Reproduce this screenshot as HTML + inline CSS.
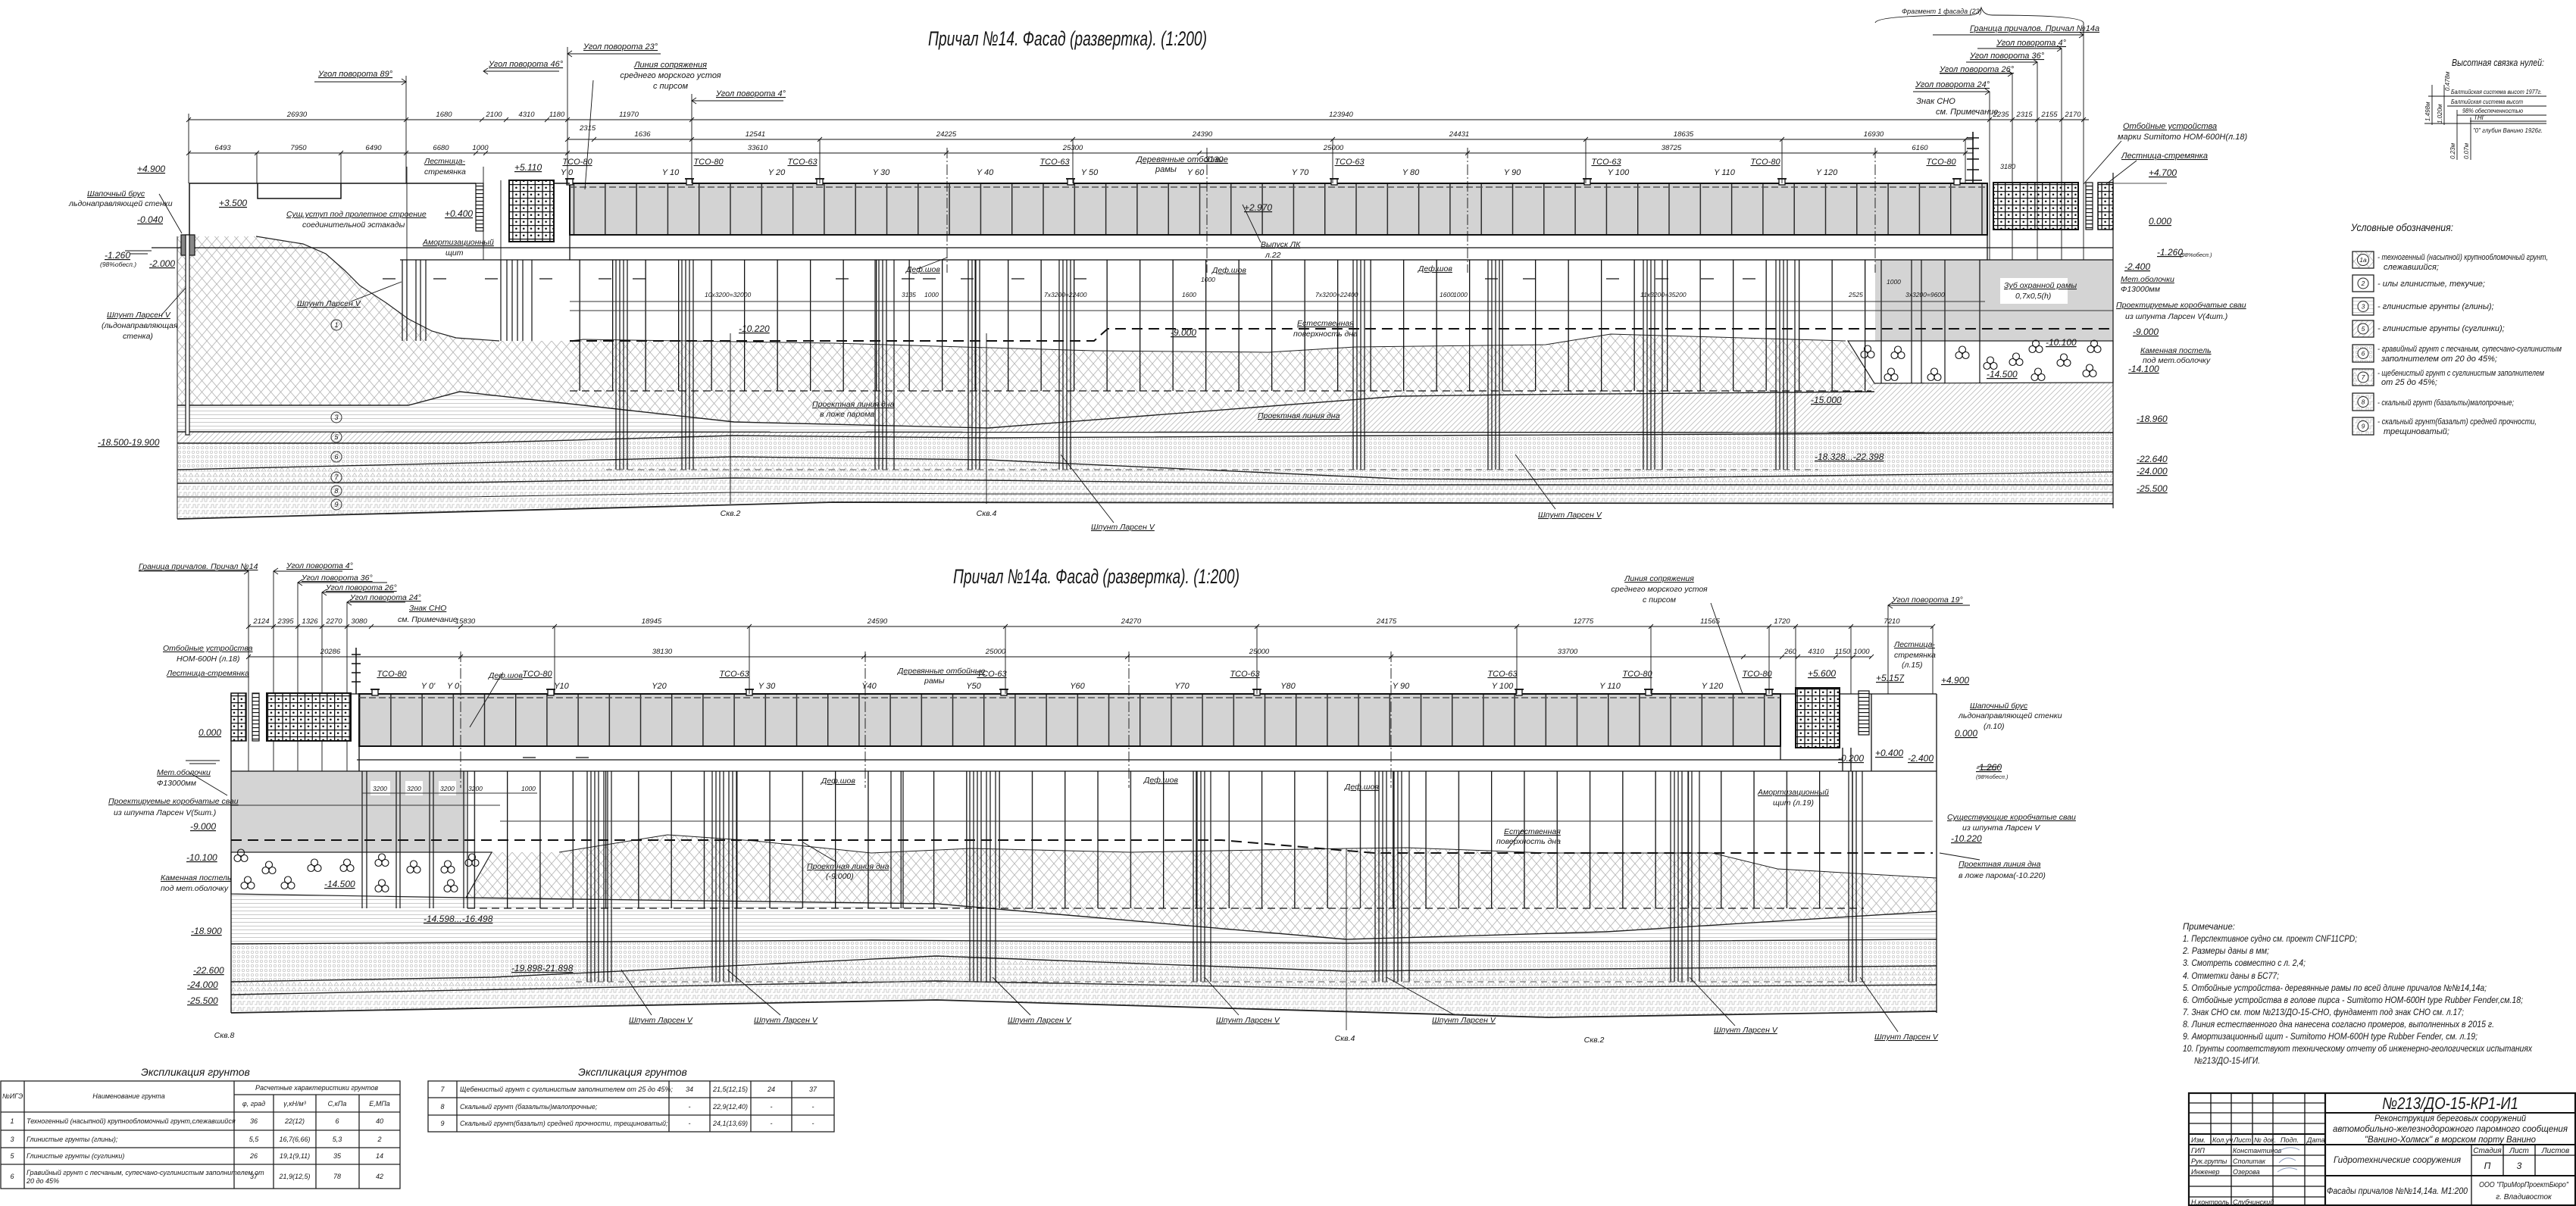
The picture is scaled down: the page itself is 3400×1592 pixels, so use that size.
<!DOCTYPE html>
<html><head><meta charset="utf-8">
<style>
html,body{margin:0;padding:0;background:#fff}
svg{display:block}
text{font-family:"Liberation Sans","DejaVu Sans","Noto Sans CJK SC",sans-serif;font-style:italic;fill:#151515}
.u{text-decoration:underline}
.m{text-anchor:middle}
</style></head><body>
<svg width="3400" height="1592" viewBox="0 0 3400 1592" xmlns="http://www.w3.org/2000/svg">
<defs>
<pattern id="pPa" patternUnits="userSpaceOnUse" x="756.8" y="0" width="41.3" height="100"><rect width="41.3" height="100" fill="#d3d3d3"/><rect width="1.4" height="100" fill="#222"/></pattern>
<pattern id="pPb" patternUnits="userSpaceOnUse" x="474" y="0" width="41.2" height="100"><rect width="41.2" height="100" fill="#d3d3d3"/><rect width="1.4" height="100" fill="#222"/></pattern>
<pattern id="pP" patternUnits="userSpaceOnUse" x="1112.5" y="0" width="43.5" height="10"><rect width="1.3" height="10" fill="#111"/></pattern>
<pattern id="pP2" patternUnits="userSpaceOnUse" x="669" y="0" width="43.3" height="10"><rect width="1.3" height="10" fill="#111"/></pattern>
<pattern id="pF" patternUnits="userSpaceOnUse" width="9.8" height="9"><rect width="9.8" height="9" fill="#fff"/><path d="M0,0.6H9.8M0.6,0V9" stroke="#111" stroke-width="1.4"/><circle cx="5.2" cy="4.8" r="1.3" fill="#111"/></pattern>
<pattern id="pL" patternUnits="userSpaceOnUse" width="10" height="5"><rect width="10" height="5" fill="#fff"/><rect width="10" height="1.2" fill="#111"/></pattern>
<pattern id="pX" patternUnits="userSpaceOnUse" width="13" height="15"><path d="M0,0L13,15M13,0L0,15" stroke="#b3b3b3" stroke-width="0.8" fill="none"/></pattern>
<pattern id="pH" patternUnits="userSpaceOnUse" width="10" height="5"><path d="M0,2.5H10" stroke="#bdbdbd" stroke-width="0.8"/></pattern>
<pattern id="pD" patternUnits="userSpaceOnUse" width="7" height="7"><path d="M0,7L7,0M-1,1L1,-1M6,8L8,6" stroke="#bbbbbb" stroke-width="0.8"/></pattern>
<pattern id="pO" patternUnits="userSpaceOnUse" width="6" height="6"><circle cx="3" cy="3" r="1.7" fill="none" stroke="#bababa" stroke-width="0.7"/></pattern>
<pattern id="pT" patternUnits="userSpaceOnUse" width="8" height="7"><path d="M1,6L4,1.5L7,6Z" fill="none" stroke="#bababa" stroke-width="0.7"/></pattern>
<pattern id="pZ" patternUnits="userSpaceOnUse" width="12" height="8"><path d="M0,6H3V2H6V6H9V2H12" fill="none" stroke="#bababa" stroke-width="0.7"/></pattern>
<g id="st" fill="none" stroke="#111" stroke-width="1.1"><circle cx="0" cy="-4.5" r="4.5"/><circle cx="-4.5" cy="3" r="4.5"/><circle cx="4.5" cy="3" r="4.5"/></g>
<g id="bo"><rect x="-4" y="-8" width="8" height="8" fill="#fff" stroke="#111" stroke-width="1.3"/><line x1="-6" y1="-8" x2="6" y2="-8" stroke="#111" stroke-width="1.8"/></g>
</defs>
<rect width="3400" height="1592" fill="#fff"/>

<!-- ================= TOP DRAWING ================= -->
<text x="1225" y="60" font-size="27" textLength="368" lengthAdjust="spacingAndGlyphs">Причал №14. Фасад (развертка). (1:200)</text>

<!-- soils -->
<polygon fill="url(#pX)" points="234,312 257,312 338,312 400,322 430,335 455,357 475,377 510,400 539,421 570,437 602,446 659,450 752,450 770,448 1100,453 1444,463 1674,465 1789,458 2040,455 2126,441 2436,450 2474,506 2474,517 2000,521 1846,523 1304,565 969,557 607,517 539,535 234,535"/>
<polygon fill="url(#pH)" points="234,535 539,535 607,517 969,557 1304,565 1304,570 234,570"/>
<polygon fill="url(#pD)" points="1304,565 1846,523 2000,521 2474,517 2474,506 2789,505 2789,571 1304,571"/>
<polygon fill="url(#pD)" points="234,570 1304,571 1304,578 969,575 613,585 234,585"/>
<polygon fill="url(#pO)" points="234,585 613,585 969,575 1304,578 1846,575 2789,571 2789,623 2000,633 1846,632 1304,607 969,603 234,620"/>
<polygon fill="url(#pT)" points="234,620 969,603 1304,607 1846,632 2000,633 2789,623 2789,640 1846,640 1304,634 969,631 613,637 234,638"/>
<polygon fill="url(#pZ)" points="234,638 613,637 969,631 1304,634 1846,640 2789,640 2789,665 1100,663 234,685"/>
<g stroke="#222" stroke-width="1.4" fill="none">
<polyline points="234,535 539,535 607,517 969,557 1304,565 1846,523 2000,521 2474,517"/>
<polyline points="234,570 2789,571"/>
<polyline points="234,585 613,585 969,575 1304,578 1846,575 2789,571"/>
<polyline points="234,620 969,603 1304,607 1846,632 2000,633 2789,623"/>
<polyline points="234,638 613,637 969,631 1304,634 1846,640 2789,640"/>
<polyline points="234,656 613,656 969,650 1304,652 2000,652 2789,650" stroke-width="1"/>
<polyline points="234,685 1100,663 2789,665" stroke-width="1.8"/>
<polyline points="338,312 400,322 430,335 455,357 475,377 510,400 539,421 570,437 602,446 659,450" stroke-width="1.2"/>
<polyline points="752,450 770,448 1100,453 1444,463 1674,465 1789,458 2040,455 2126,441 2436,450" stroke-width="1"/>
<line x1="234" y1="312" x2="234" y2="685" stroke-width="1"/>
</g>

<!-- right gray / stones -->
<rect x="2475" y="343" width="314" height="107" fill="#d4d4d4"/>
<polygon points="2439,450 2789,450 2789,505 2474,506" fill="#fff" stroke="#222" stroke-width="1.2"/>
<rect x="2640" y="367" width="89" height="34" fill="#fff"/>
<use href="#st" x="2465" y="465"/><use href="#st" x="2505" y="466"/><use href="#st" x="2496" y="495"/><use href="#st" x="2553" y="495"/><use href="#st" x="2590" y="466"/><use href="#st" x="2627" y="480"/><use href="#st" x="2661" y="475"/><use href="#st" x="2687" y="458"/><use href="#st" x="2690" y="495"/><use href="#st" x="2724" y="476"/><use href="#st" x="2764" y="458"/><use href="#st" x="2758" y="490"/>

<!-- piles -->
<rect x="752" y="343" width="1720" height="173" fill="url(#pP)"/>
<path stroke="#111" stroke-width="1.2" fill="none" d="M2483,343V506M2523,343V506M2536,343V506M2567,343V506M2613,343V506
M813,343V620M818,343V620M823,343V620M828,343V620
M900,343V620M905,343V620M910,343V620M915,343V620
M1155,343V620M1160,343V620M1165,343V620M1170,343V620M1180,343V620
M1278,343V620M1283,343V620M1288,343V620M1293,343V620
M1398,343V620M1403,343V620M1408,343V620M1413,343V620
M1786,343V620M1791,343V620M1796,343V620M1801,343V620
M1964,343V620M1969,343V620M1974,343V620M1979,343V620
M2169,343V620M2174,343V620M2179,343V620M2184,343V620M2194,343V620
M2344,343V620M2349,343V620M2354,343V620M2359,343V620M2369,343V620
M531,343V450M537,343V450M549,343V450M555,343V450M562,343V450
M661,343V450M669,343V450M676,343V450M683,343V450M690,343V450M702,343V450"/>
<path stroke="#333" stroke-width="1" d="M752,398H2620M752,410H2789"/>
<path stroke="#111" stroke-width="2" fill="none" stroke-dasharray="14 8" d="M752,450H1444L1462,434H2789"/>
<path stroke="#111" stroke-width="1.2" fill="none" stroke-dasharray="10 6" d="M752,516H2470"/>
<path stroke="#555" stroke-width="1" fill="none" stroke-dasharray="8 6" d="M800,620H2400"/>
<!-- arrows -->
<path stroke="#111" stroke-width="1.2" d="M505,368H522M572,368H589M640,368H657M712,368H729M790,368H807M835,368H852M1103,368H1120M1190,368H1207M1218,368H1235M1268,368H1285M1335,368H1352M1417,368H1434M1960,368H1977M2010,368H2027M2120,368H2137M2185,368H2202M2245,368H2262M2300,368H2317"/>

<!-- panel -->
<rect x="752" y="242" width="1871" height="68" fill="url(#pPa)" stroke="#111" stroke-width="2"/>
<line x1="752" y1="247" x2="2623" y2="247" stroke="#555" stroke-width="1.5" stroke-dasharray="9 4"/>
<rect x="752" y="310" width="1871" height="33" fill="none" stroke="#111" stroke-width="1.3"/>
<use href="#bo" x="910" y="244"/><use href="#bo" x="1082" y="244"/><use href="#bo" x="1413" y="244"/><use href="#bo" x="1761" y="244"/><use href="#bo" x="2095" y="244"/><use href="#bo" x="2352" y="244"/><use href="#bo" x="2583" y="244"/><use href="#bo" x="752" y="244"/>

<!-- left structure -->
<g stroke="#111" stroke-width="1.5" fill="none">
<path d="M250,310V242H628M340,242V262H450V242M731,242H752"/>
<path d="M200,327H2789M528,343H752M2623,343H2789" stroke-width="1.2"/>
<path d="M537,220V343M638,220V343M661,238V343M749,62V242M913,124V242M536,100V242" stroke-width="0.9"/>
<line x1="2789" y1="228" x2="2789" y2="671" stroke-width="1.2"/>
</g>
<rect x="628" y="242" width="10" height="63" fill="url(#pL)" stroke="#111" stroke-width="1.2"/>
<rect x="672" y="238" width="59" height="81" fill="url(#pF)" stroke="#111" stroke-width="2"/>
<rect x="239" y="310" width="18" height="27" fill="#888" stroke="#111" stroke-width="1.2"/>
<rect x="245" y="310" width="5" height="264" fill="#fff" stroke="#111" stroke-width="1.2"/>
<path d="M165,331H200M172,335H195" stroke="#111" stroke-width="1"/>

<!-- right end -->
<rect x="2631" y="241" width="112" height="62" fill="url(#pF)" stroke="#111" stroke-width="2"/>
<rect x="2753" y="241" width="9" height="62" fill="url(#pL)" stroke="#111" stroke-width="1.2"/>
<rect x="2769" y="241" width="20" height="62" fill="url(#pF)" stroke="#111" stroke-width="1.5"/>
<path stroke="#111" stroke-width="0.9" fill="none" d="M2626,121V343M2656,97V343M2689,82V343M2721,64V343M2750,46V343M2750,30V46"/>
<path stroke="#111" stroke-width="1.6" fill="none" d="M2604,174V243M2596,182H2612M2596,196H2612M2596,210H2612M2596,224H2612M2594,238H2616"/>
<path d="M2790,242H2860" stroke="#111" stroke-width="0.8"/>

<!-- dimension lines top -->
<g stroke="#111" stroke-width="0.9" fill="none">
<path d="M249,158H2757M749,184H2605M249,202H2605"/>
<path d="M246,161L252,155M533,161L539,155M633,161L639,155M665,161L671,155M719,161L725,155M746,161L752,155M910,161L916,155M2623,161L2629,155M2653,161L2659,155M2686,161L2692,155M2718,161L2724,155M2747,161L2753,155"/>
<path d="M746,187L752,181M781,187L787,181M910,187L916,181M1079,187L1085,181M1413,187L1419,181M1756,187L1762,181M2090,187L2096,181M2349,187L2355,181M2591,187L2597,181"/>
<path d="M246,205L252,199M336,205L342,199M447,205L453,199M533,205L539,199M625,205L631,199M638,205L644,199M746,205L752,199M1246,205L1252,199M1580,205L1586,199M1934,205L1940,199M2472,205L2478,199M2591,205L2597,199"/>
<path d="M249,150V242M339,202V242M450,202V242M1082,184V242M1416,184V242M1759,184V242M2093,184V242M2352,184V242M2594,184V242"/>
<path d="M1250,195V360M1593,195V360M1937,195V360M2475,195V360" stroke-dasharray="14 3 2 3"/>
</g>
<g font-size="9.5">
<text x="392" y="154" class="m">26930</text><text x="586" y="154" class="m">1680</text><text x="652" y="154" class="m">2100</text><text x="695" y="154" class="m">4310</text><text x="735" y="154" class="m">1180</text><text x="830" y="154" class="m">11970</text><text x="1770" y="154" class="m">123940</text><text x="2641" y="154" class="m">2235</text><text x="2672" y="154" class="m">2315</text><text x="2705" y="154" class="m">2155</text><text x="2736" y="154" class="m">2170</text>
<text x="848" y="180" class="m">1636</text><text x="997" y="180" class="m">12541</text><text x="1249" y="180" class="m">24225</text><text x="1587" y="180" class="m">24390</text><text x="1926" y="180" class="m">24431</text><text x="2222" y="180" class="m">18635</text><text x="2473" y="180" class="m">16930</text><text x="765" y="172">2315</text>
<text x="294" y="198" class="m">6493</text><text x="394" y="198" class="m">7950</text><text x="493" y="198" class="m">6490</text><text x="582" y="198" class="m">6680</text><text x="634" y="198" class="m">1000</text><text x="1000" y="198" class="m">33610</text><text x="1416" y="198" class="m">25300</text><text x="1760" y="198" class="m">25000</text><text x="2206" y="198" class="m">38725</text><text x="2534" y="198" class="m">6160</text>
</g>
<!-- Y labels & TCO -->
<g font-size="11">
<text x="748" y="231" class="m">Y 0</text><text x="885" y="231" class="m">Y 10</text><text x="1025" y="231" class="m">Y 20</text><text x="1163" y="231" class="m">Y 30</text><text x="1300" y="231" class="m">Y 40</text><text x="1438" y="231" class="m">Y 50</text><text x="1578" y="231" class="m">Y 60</text><text x="1716" y="231" class="m">Y 70</text><text x="1862" y="231" class="m">Y 80</text><text x="1996" y="231" class="m">Y 90</text><text x="2136" y="231" class="m">Y 100</text><text x="2276" y="231" class="m">Y 110</text><text x="2411" y="231" class="m">Y 120</text>
<text x="762" y="217" class="m u">TCO-80</text><text x="935" y="217" class="m u">TCO-80</text><text x="1059" y="217" class="m u">TCO-63</text><text x="1392" y="217" class="m u">TCO-63</text><text x="1781" y="217" class="m u">TCO-63</text><text x="2120" y="217" class="m u">TCO-63</text><text x="2330" y="217" class="m u">TCO-80</text><text x="2562" y="217" class="m u">TCO-80</text>
</g>
<!-- annotations top -->
<g font-size="11">
<text x="420" y="101" class="u">Угол поворота 89°</text>
<text x="645" y="88" class="u">Угол поворота 46°</text>
<text x="770" y="65" class="u">Угол поворота 23°</text>
<text x="885" y="89" class="m u">Линия сопряжения</text>
<text x="885" y="103" class="m">среднего морского устоя</text>
<text x="885" y="117" class="m">с пирсом</text>
<text x="945" y="127" class="u">Угол поворота 4°</text>
<text x="2510" y="18" font-size="9">Фрагмент 1 фасада (23)</text>
<text x="2600" y="41" class="u">Граница причалов. Причал №14а</text>
<text x="2635" y="60" class="u">Угол поворота 4°</text>
<text x="2600" y="77" class="u">Угол поворота 36°</text>
<text x="2560" y="95" class="u">Угол поворота 26°</text>
<text x="2528" y="115" class="u">Угол поворота 24°</text>
<text x="2555" y="137" class="m">Знак СНО</text>
<text x="2555" y="151">см. Примечание</text>
<text x="2802" y="170" class="u">Отбойные устройства</text>
<text x="2795" y="184">марки Sumitomo HOM-600H(л.18)</text>
<text x="2800" y="209" class="u">Лестница-стремянка</text>
<text x="2640" y="223" font-size="9">3180</text>
<text x="1500" y="214" class="u">Деревянные отбойные</text><text x="1525" y="227">рамы</text>
<text x="1590" y="214">3130</text>
</g>
<g stroke="#111" stroke-width="0.9" fill="none">
<path d="M415,108H535M530,104L536,108L530,112M638,94H738M644,90L638,94L644,98M749,71H872M755,67L749,71L755,75M913,133H1034M919,129L913,133L919,137"/>
<path d="M2551,46H2750M2744,42L2750,46L2744,50M2610,64H2721M2715,60L2721,64L2715,68M2595,82H2689M2683,78L2689,82L2683,86M2560,97H2656M2650,93L2656,97L2650,101M2525,121H2626M2620,117L2626,121L2620,125"/>
<path d="M2475,30Q2478,20 2600,20Q2612,20 2615,10Q2618,20 2630,20Q2748,20 2750,30"/>
<path d="M783,106L772,250M2800,186L2750,243M2820,212L2780,243"/>
</g>
<!-- left elevation labels -->
<g font-size="12">
<text x="181" y="227" class="u">+4.900</text>
<text x="181" y="294" class="u">-0.040</text>
<text x="138" y="341" class="u">-1.260</text>
<text x="132" y="352" font-size="8.5">(98%обесп.)</text>
<text x="197" y="352" class="u">-2.000</text>
<text x="129" y="588" class="u">-18.500-19.900</text>
<text x="289" y="272" class="u">+3.500</text>
<text x="587" y="286" class="u">+0.400</text>
<text x="679" y="225" class="u">+5.110</text>
<text x="975" y="438" class="u">-10.220</text>
<text x="1545" y="443" class="u">-9.000</text>
<text x="1642" y="278" class="u">+2.970</text>
</g>
<g font-size="10.5">
<text x="115" y="259" class="u">Шапочный брус</text>
<text x="91" y="272">льдонаправляющей стенки</text>
<text x="141" y="419" class="u">Шпунт Ларсен V</text>
<text x="134" y="433">(льдонаправляющая</text>
<text x="162" y="447">стенка)</text>
<text x="378" y="286" class="u">Сущ.уступ под пролетное строение</text>
<text x="399" y="300">соединительной эстакады</text>
<text x="560" y="216" class="u">Лестница-</text><text x="560" y="230">стремянка</text>
<text x="558" y="323" class="u">Амортизационный</text><text x="588" y="337">щит</text>
<text x="392" y="404" class="u">Шпунт Ларсен V</text>
<text x="1664" y="326" class="u">Выпуск ЛК</text><text x="1670" y="340">л.22</text>
<text x="1196" y="359" class="u">Деф.шов</text><text x="1600" y="360" class="u">Деф.шов</text><text x="1872" y="358" class="u">Деф.шов</text>
<text x="1072" y="537" class="u">Проектная линия дна</text><text x="1082" y="550">в ложе парома</text>
<text x="1660" y="552" class="u">Проектная линия дна</text>
<text x="1712" y="430" class="u">Естественная</text><text x="1707" y="444">поверхность дна</text>
<text x="964" y="681" class="m">Скв.2</text><text x="1302" y="681" class="m">Скв.4</text>
<text x="1440" y="699" class="u">Шпунт Ларсен V</text>
<text x="2030" y="683" class="u">Шпунт Ларсен V</text>
<text x="2645" y="380" class="u">Зуб охранной рамы</text><text x="2660" y="394">0,7х0,5(h)</text>
</g>
<g font-size="8.5">
<text x="930" y="392">10х3200=32000</text><text x="1190" y="392">3135</text><text x="1220" y="392">1000</text><text x="1378" y="392">7х3200=22400</text><text x="1560" y="392">1600</text><text x="1585" y="372">1000</text><text x="1736" y="392">7х3200=22400</text><text x="1900" y="392">1600</text><text x="1918" y="392">1000</text><text x="2165" y="392">11х3200=35200</text><text x="2440" y="392">2525</text><text x="2515" y="392">3х3200=9600</text><text x="2490" y="375">1000</text>
</g>
<g font-size="12">
<text x="2836" y="232" class="u">+4.700</text>
<text x="2836" y="296" class="u">0.000</text>
<text x="2847" y="337" class="u">-1.260</text><text x="2877" y="339" font-size="7.5">(98%обесп.)</text>
<text x="2804" y="356" class="u">-2.400</text>
<text x="2815" y="442" class="u">-9.000</text>
<text x="2700" y="456" class="u">-10.100</text>
<text x="2809" y="491" class="u">-14.100</text>
<text x="2622" y="498" class="u">-14.500</text>
<text x="2390" y="532" class="u">-15.000</text>
<text x="2820" y="557" class="u">-18.960</text>
<text x="2395" y="607" class="u">-18.328...-22.398</text>
<text x="2820" y="610" class="u">-22.640</text>
<text x="2820" y="626" class="u">-24.000</text>
<text x="2820" y="649" class="u">-25.500</text>
</g>
<g font-size="10.5">
<text x="2799" y="372" class="u">Мет.оболочки</text><text x="2799" y="385">Ф13000мм</text>
<text x="2793" y="406" class="u">Проектируемые коробчатые сваи</text><text x="2805" y="421">из шпунта Ларсен V(4шт.)</text>
<text x="2825" y="466" class="u">Каменная постель</text><text x="2828" y="479">под мет.оболочку</text>
</g>
<g fill="none" stroke="#333" stroke-width="1"><circle cx="444" cy="429" r="7"/><circle cx="444" cy="551" r="7"/><circle cx="444" cy="577" r="7"/><circle cx="444" cy="603" r="7"/><circle cx="444" cy="630" r="7"/><circle cx="444" cy="648" r="7"/><circle cx="444" cy="666" r="7"/></g>
<g font-size="9" class="m"><text x="444" y="432" class="m">1</text><text x="444" y="554" class="m">3</text><text x="444" y="580" class="m">5</text><text x="444" y="606" class="m">6</text><text x="444" y="633" class="m">7</text><text x="444" y="651" class="m">8</text><text x="444" y="669" class="m">9</text></g>
<path stroke="#111" stroke-width="0.9" fill="none" d="M964,440V665M1302,440V665M1470,690L1400,600M2053,672L2000,600M210,256L240,308M213,416L245,380M463,398L530,372M1664,320L1640,270M1211,355L1250,340"/>

<!-- ================= BOTTOM DRAWING ================= -->
<text x="1258" y="770" font-size="27" textLength="378" lengthAdjust="spacingAndGlyphs">Причал №14а. Фасад (развертка). (1:200)</text>

<polygon fill="url(#pX)" points="649,1125 738,1125 881,1102 996,1110 1150,1126 1281,1120 1492,1125 1777,1120 1857,1119 2044,1126 2260,1126 2346,1147 2556,1159 2556,1203 2120,1230 1777,1240 1236,1193 615,1185"/>
<polygon fill="url(#pH)" points="305,1180 470,1184 615,1185 1236,1193 1777,1240 2120,1230 2556,1203 2556,1240 1777,1245 1150,1241 305,1246"/>
<polygon fill="url(#pO)" points="305,1246 1150,1241 1777,1245 2556,1240 2556,1275 1777,1282 1236,1262 650,1290 305,1296"/>
<polygon fill="url(#pT)" points="305,1296 650,1290 1236,1262 1777,1282 2556,1275 2556,1300 1777,1305 1236,1295 305,1313"/>
<polygon fill="url(#pZ)" points="305,1313 1236,1295 1777,1305 2556,1300 2556,1335 2044,1343 1236,1320 305,1337"/>
<g stroke="#222" stroke-width="1.4" fill="none">
<polyline points="615,1185 1236,1193 1777,1240 2120,1230 2556,1203"/>
<polyline points="305,1246 1150,1241 1777,1245 2556,1240"/>
<polyline points="305,1296 650,1290 1236,1262 1777,1282 2556,1275"/>
<polyline points="305,1313 1236,1295 1777,1305 2556,1300"/>
<polyline points="305,1337 1236,1320 2044,1343 2556,1335" stroke-width="1.8"/>
<polyline points="738,1125 881,1102 996,1110 1150,1126 1281,1120 1492,1125 1777,1120 1857,1119 2044,1126 2260,1126 2346,1147 2556,1159" stroke-width="1"/>
<line x1="1777" y1="1120" x2="1777" y2="1360" stroke-width="0.9"/>
</g>
<rect x="305" y="1018" width="310" height="107" fill="#d4d4d4"/>
<polygon points="305,1125 649,1125 615,1185 305,1180" fill="#fff" stroke="#222" stroke-width="1.2"/>
<use href="#st" x="318" y="1130"/><use href="#st" x="355" y="1146"/><use href="#st" x="327" y="1166"/><use href="#st" x="380" y="1166"/><use href="#st" x="415" y="1143"/><use href="#st" x="458" y="1143"/><use href="#st" x="504" y="1136"/><use href="#st" x="504" y="1170"/><use href="#st" x="546" y="1145"/><use href="#st" x="591" y="1145"/><use href="#st" x="595" y="1170"/><use href="#st" x="623" y="1136"/>
<rect x="489" y="1031" width="26" height="19" fill="#fff"/><rect x="535" y="1031" width="23" height="19" fill="#fff"/><rect x="579" y="1031" width="23" height="19" fill="#fff"/>
<rect x="617" y="1018" width="1843" height="181" fill="url(#pP2)"/>
<path stroke="#111" stroke-width="1.2" fill="none" d="M478,1018V1199M484,1018V1199M523,1018V1199M528,1018V1199M567,1018V1199M572,1018V1199M612,1018V1199M617,1018V1199
M775,1018V1296M780,1018V1296M785,1018V1296M790,1018V1296M797,1018V1296M802,1018V1296M807,1018V1296
M940,1018V1296M945,1018V1296M950,1018V1296M955,1018V1296M962,1018V1296M967,1018V1296M972,1018V1296
M1176,1018V1199M1192,1018V1199
M1280,1018V1296M1285,1018V1296M1290,1018V1296M1295,1018V1296M1302,1018V1296M1307,1018V1296M1314,1018V1296
M1575,1018V1296M1580,1018V1296M1585,1018V1296M1590,1018V1296M1598,1018V1296
M1815,1018V1296M1820,1018V1296M1825,1018V1296M1830,1018V1296M1840,1018V1296M1845,1018V1296M1850,1018V1296M1860,1018V1296
M2205,1018V1296M2210,1018V1296M2215,1018V1296M2220,1018V1296M2228,1018V1296M2233,1018V1296M2243,1018V1296
M2440,1018V1296M2445,1018V1296M2450,1018V1296M2458,1018V1296"/>
<path stroke="#333" stroke-width="1" d="M478,1047H709M304,1063H660M660,1084H2551"/>
<path stroke="#111" stroke-width="2" fill="none" stroke-dasharray="14 8" d="M305,1109H1612L1814,1126H2551"/>
<path stroke="#111" stroke-width="1.2" fill="none" stroke-dasharray="10 6" d="M617,1199H2460"/>
<path stroke="#555" stroke-width="1" fill="none" stroke-dasharray="8 6" d="M760,1296H2470"/>
<path stroke="#111" stroke-width="1.2" d="M690,1000H707M760,1000H777"/>

<rect x="474" y="916" width="1876" height="69" fill="url(#pPb)" stroke="#111" stroke-width="2"/>
<line x1="474" y1="921" x2="2350" y2="921" stroke="#555" stroke-width="1.5" stroke-dasharray="9 4"/>
<use href="#bo" x="495" y="918"/><use href="#bo" x="727" y="918"/><use href="#bo" x="989" y="918"/><use href="#bo" x="1325" y="918"/><use href="#bo" x="1659" y="918"/><use href="#bo" x="2005" y="918"/><use href="#bo" x="2176" y="918"/><use href="#bo" x="2335" y="918"/>
<g stroke="#111" stroke-width="1.3" fill="none">
<path d="M471,1003H2432M305,1018H2556M474,985V1018M2350,985V1003"/>
<path d="M305,916V1337M2556,916V1337M463,916H474M2350,916H2370M2428,916H2556M2470,916V1018M2432,987V1018M2443,987V1018"/>
<path d="M328,754V1018M361,754V1018M393,769V1018M425,782V1018M458,795V1018" stroke-width="0.9"/>
<path d="M470,855V916M464,864H476M464,876H476M464,888H476M464,900H476" stroke-width="1.5"/>
</g>
<rect x="305" y="915" width="20" height="63" fill="url(#pF)" stroke="#111" stroke-width="1.5"/>
<rect x="333" y="915" width="9" height="63" fill="url(#pL)" stroke="#111" stroke-width="1.2"/>
<rect x="352" y="915" width="111" height="63" fill="url(#pF)" stroke="#111" stroke-width="2"/>
<rect x="2370" y="908" width="58" height="79" fill="url(#pF)" stroke="#111" stroke-width="2"/>
<rect x="2453" y="912" width="14" height="58" fill="url(#pL)" stroke="#111" stroke-width="1.2"/>
<path d="M245,1004H290M250,1008H285M2610,1012H2640M2615,1016H2635" stroke="#111" stroke-width="1"/>

<!-- bottom dims -->
<g stroke="#111" stroke-width="0.9" fill="none">
<path d="M328,827H2551M328,867H2470"/>
<path d="M325,830L331,824M358,830L364,824M390,830L396,824M422,830L428,824M455,830L461,824M487,830L493,824M605,830L611,824M729,830L735,824M986,830L992,824M1324,830L1330,824M1656,830L1662,824M1999,830L2005,824M2176,830L2182,824M2332,830L2338,824M2367,830L2373,824M2440,830L2446,824M2548,830L2554,824"/>
<path d="M325,870L331,864M605,870L611,864M1137,870L1143,864M1485,870L1491,864M1833,870L1839,864M2298,870L2304,864M2349,870L2355,864M2370,870L2376,864M2420,870L2426,864M2443,870L2449,864M2467,870L2473,864"/>
<path d="M732,827V916M989,827V916M1327,827V916M1659,827V916M2002,827V916M2179,827V916M2335,827V916M2370,827V908M2443,827V916M2551,827V916"/>
<path d="M608,860V1040M1142,860V1040M1490,860V1040M1836,860V1040" stroke-dasharray="14 3 2 3"/>
<path d="M183,754H328M322,750L328,754L322,758M361,754H452M367,750L361,754L367,758M393,769H511M399,765L393,769L399,773M425,782H520M431,778L425,782L431,786M458,795H535M464,791L458,795L464,799"/>
<path d="M2492,799H2600M2498,795L2492,799L2498,803M2492,799V916M2258,796L2300,916"/>
</g>
<g font-size="9.5">
<text x="345" y="823" class="m">2124</text><text x="377" y="823" class="m">2395</text><text x="409" y="823" class="m">1326</text><text x="441" y="823" class="m">2270</text><text x="474" y="823" class="m">3080</text><text x="614" y="823" class="m">15830</text><text x="860" y="823" class="m">18945</text><text x="1158" y="823" class="m">24590</text><text x="1493" y="823" class="m">24270</text><text x="1830" y="823" class="m">24175</text><text x="2090" y="823" class="m">12775</text><text x="2257" y="823" class="m">11565</text><text x="2352" y="823" class="m">1720</text><text x="2497" y="823" class="m">7210</text>
<text x="436" y="863" class="m">20286</text><text x="874" y="863" class="m">38130</text><text x="1314" y="863" class="m">25000</text><text x="1662" y="863" class="m">25000</text><text x="2069" y="863" class="m">33700</text><text x="2363" y="863" class="m">260</text><text x="2397" y="863" class="m">4310</text><text x="2432" y="863" class="m">1150</text><text x="2457" y="863" class="m">1000</text>
</g>
<g font-size="11">
<text x="565" y="909" class="m">Y 0'</text><text x="598" y="909" class="m">Y 0</text><text x="741" y="909" class="m">Y10</text><text x="870" y="909" class="m">Y20</text><text x="1012" y="909" class="m">Y 30</text><text x="1147" y="909" class="m">Y40</text><text x="1285" y="909" class="m">Y50</text><text x="1422" y="909" class="m">Y60</text><text x="1560" y="909" class="m">Y70</text><text x="1700" y="909" class="m">Y80</text><text x="1849" y="909" class="m">Y 90</text><text x="1983" y="909" class="m">Y 100</text><text x="2125" y="909" class="m">Y 110</text><text x="2260" y="909" class="m">Y 120</text>
<text x="517" y="893" class="m u">TCO-80</text><text x="709" y="893" class="m u">TCO-80</text><text x="969" y="893" class="m u">TCO-63</text><text x="1309" y="893" class="m u">TCO-63</text><text x="1643" y="893" class="m u">TCO-63</text><text x="1983" y="893" class="m u">TCO-63</text><text x="2161" y="893" class="m u">TCO-80</text><text x="2319" y="893" class="m u">TCO-80</text>
</g>
<g font-size="10.5">
<text x="183" y="751" class="u">Граница причалов. Причал №14</text>
<text x="378" y="750" class="u">Угол поворота 4°</text>
<text x="398" y="766" class="u">Угол поворота 36°</text>
<text x="430" y="779" class="u">Угол поворота 26°</text>
<text x="462" y="792" class="u">Угол поворота 24°</text>
<text x="540" y="806" class="u">Знак СНО</text>
<text x="525" y="821">см. Примечание</text>
<text x="215" y="859" class="u">Отбойные устройства</text>
<text x="233" y="873">НОМ-600Н (л.18)</text>
<text x="220" y="892" class="u">Лестница-стремянка</text>
<text x="207" y="1023" class="u">Мет.оболочки</text><text x="207" y="1037">Ф13000мм</text>
<text x="143" y="1061" class="u">Проектируемые коробчатые сваи</text><text x="150" y="1076">из шпунта Ларсен V(5шт.)</text>
<text x="212" y="1162" class="u">Каменная постель</text><text x="212" y="1176">под мет.оболочку</text>
<text x="1065" y="1147" class="u">Проектная линия дна</text><text x="1090" y="1160">(-9.000)</text>
<text x="1185" y="889" class="u">Деревянные отбойные</text><text x="1220" y="902">рамы</text>
<text x="645" y="895" class="u">Деф.шов</text><text x="1084" y="1034" class="u">Деф.шов</text><text x="1510" y="1033" class="u">Деф.шов</text><text x="1775" y="1042" class="u">Деф.шов</text>
<text x="830" y="1350" class="u">Шпунт Ларсен V</text><text x="995" y="1350" class="u">Шпунт Ларсен V</text><text x="1330" y="1350" class="u">Шпунт Ларсен V</text><text x="1605" y="1350" class="u">Шпунт Ларсен V</text><text x="1890" y="1350" class="u">Шпунт Ларсен V</text><text x="2262" y="1363" class="u">Шпунт Ларсен V</text><text x="2474" y="1372" class="u">Шпунт Ларсен V</text>
<text x="296" y="1370" class="m">Скв.8</text><text x="1775" y="1374" class="m">Скв.4</text><text x="2104" y="1376" class="m">Скв.2</text>
<text x="2190" y="767" class="m u">Линия сопряжения</text><text x="2190" y="781" class="m">среднего морского устоя</text><text x="2190" y="795" class="m">с пирсом</text>
<text x="2497" y="795" class="u">Угол поворота 19°</text>
<text x="2500" y="854" class="u">Лестница-</text><text x="2500" y="868">стремянка</text><text x="2510" y="881">(л.15)</text>
<text x="2600" y="935" class="u">Шапочный брус</text><text x="2585" y="948">льдонаправляющей стенки</text><text x="2618" y="962">(л.10)</text>
<text x="2320" y="1049" class="u">Амортизационный</text><text x="2340" y="1063">щит (л.19)</text>
<text x="2570" y="1082" class="u">Существующие коробчатые сваи</text><text x="2590" y="1096">из шпунта Ларсен V</text>
<text x="2585" y="1144" class="u">Проектная линия дна</text><text x="2585" y="1159">в ложе парома(-10.220)</text>
<text x="1985" y="1101" class="u">Естественная</text><text x="1975" y="1114">поверхность дна</text>
</g>
<g font-size="12">
<text x="262" y="971" class="u">0.000</text>
<text x="251" y="1095" class="u">-9.000</text>
<text x="246" y="1136" class="u">-10.100</text>
<text x="428" y="1171" class="u">-14.500</text>
<text x="559" y="1217" class="u">-14.598...-16.498</text>
<text x="252" y="1233" class="u">-18.900</text>
<text x="255" y="1285" class="u">-22.600</text>
<text x="675" y="1282" class="u">-19.898-21.898</text>
<text x="247" y="1304" class="u">-24.000</text>
<text x="247" y="1325" class="u">-25.500</text>
<text x="2386" y="893" class="u">+5.600</text>
<text x="2476" y="899" class="u">+5.157</text>
<text x="2562" y="902" class="u">+4.900</text>
<text x="2580" y="972" class="u">0.000</text>
<text x="2475" y="998" class="u">+0.400</text>
<text x="2426" y="1005" class="u">-0.200</text>
<text x="2518" y="1005" class="u">-2.400</text>
<text x="2608" y="1017" class="u">-1.260</text><text x="2608" y="1028" font-size="7.5">(98%обесп.)</text>
<text x="2575" y="1111" class="u">-10.220</text>
</g>
<g font-size="8.5"><text x="492" y="1044">3200</text><text x="537" y="1044">3200</text><text x="581" y="1044">3200</text><text x="618" y="1044">3200</text><text x="688" y="1044">1000</text></g>
<path stroke="#111" stroke-width="0.9" fill="none" d="M860,1340L820,1280M1030,1340L960,1280M1360,1340L1310,1290M1635,1340L1590,1290M1920,1340L1830,1290M2290,1354L2230,1290M2505,1362L2455,1290M1104,1138L1060,1112M2613,1135L2560,1126M662,890L620,960M2010,1095L1990,1120M250,1020L300,1050"/>

<!-- ================= TABLES ================= -->
<text x="258" y="1420" font-size="14" class="m">Экспликация грунтов</text>
<text x="835" y="1420" font-size="14" class="m">Экспликация грунтов</text>
<g stroke="#222" stroke-width="1.3" fill="none">
<rect x="1" y="1427" width="527" height="142"/>
<path d="M32,1427V1569M309,1427V1569M361,1445V1569M417,1445V1569M474,1445V1569M309,1445H528M1,1468H528M1,1492H528M1,1515H528M1,1537H528"/>
<rect x="565" y="1427" width="536" height="67"/>
<path d="M603,1427V1494M883,1427V1494M937,1427V1494M991,1427V1494M1045,1427V1494M565,1449H1101M565,1472H1101"/>
</g>
<g font-size="9">
<text x="3" y="1450">№ИГЭ</text>
<text x="170" y="1450" class="m">Наименование грунта</text>
<text x="418" y="1439" class="m">Расчетные характеристики грунтов</text>
<text x="335" y="1460" class="m">φ, град</text><text x="389" y="1460" class="m">γ,кН/м³</text><text x="445" y="1460" class="m">C,кПа</text><text x="501" y="1460" class="m">E,МПа</text>
<text x="16" y="1483" class="m">1</text><text x="35" y="1483">Техногенный (насыпной) крупнообломочный грунт,слежавшийся</text><text x="335" y="1483" class="m">36</text><text x="389" y="1483" class="m">22(12)</text><text x="445" y="1483" class="m">6</text><text x="501" y="1483" class="m">40</text>
<text x="16" y="1507" class="m">3</text><text x="35" y="1507">Глинистые грунты (глины);</text><text x="335" y="1507" class="m">5,5</text><text x="389" y="1507" class="m">16,7(6,66)</text><text x="445" y="1507" class="m">5,3</text><text x="501" y="1507" class="m">2</text>
<text x="16" y="1529" class="m">5</text><text x="35" y="1529">Глинистые грунты (суглинки)</text><text x="335" y="1529" class="m">26</text><text x="389" y="1529" class="m">19,1(9,11)</text><text x="445" y="1529" class="m">35</text><text x="501" y="1529" class="m">14</text>
<text x="16" y="1556" class="m">6</text><text x="35" y="1551">Гравийный грунт с песчаным, супесчано-суглинистым заполнителем от</text><text x="35" y="1562">20 до 45%</text><text x="335" y="1556" class="m">37</text><text x="389" y="1556" class="m">21,9(12,5)</text><text x="445" y="1556" class="m">78</text><text x="501" y="1556" class="m">42</text>
<text x="584" y="1441" class="m">7</text><text x="607" y="1441">Щебенистый грунт с суглинистым заполнителем от 25 до 45%;</text><text x="910" y="1441" class="m">34</text><text x="964" y="1441" class="m">21,5(12,15)</text><text x="1018" y="1441" class="m">24</text><text x="1073" y="1441" class="m">37</text>
<text x="584" y="1464" class="m">8</text><text x="607" y="1464">Скальный грунт (базальты)малопрочные;</text><text x="910" y="1464" class="m">-</text><text x="964" y="1464" class="m">22,9(12,40)</text><text x="1018" y="1464" class="m">-</text><text x="1073" y="1464" class="m">-</text>
<text x="584" y="1486" class="m">9</text><text x="607" y="1486">Скальный грунт(базальт) средней прочности, трещиноватый;</text><text x="910" y="1486" class="m">-</text><text x="964" y="1486" class="m">24,1(13,69)</text><text x="1018" y="1486" class="m">-</text><text x="1073" y="1486" class="m">-</text>
</g>

<!-- ================= LEGENDS ================= -->
<text x="3236" y="87" font-size="13" textLength="122" lengthAdjust="spacingAndGlyphs">Высотная связка нулей:</text>
<g stroke="#111" stroke-width="0.9" fill="none">
<path d="M3230,127H3361M3230,140H3361M3243,152H3361M3260,160H3361M3200,163H3361"/>
<path d="M3210,112V165M3226,112V165M3243,145V211M3261,155V211M3205,127H3232M3205,163H3232"/>
</g>
<g font-size="8">
<text x="3235" y="124" textLength="120" lengthAdjust="spacingAndGlyphs">Балтийская система высот 1977г.</text>
<text x="3235" y="137" textLength="95" lengthAdjust="spacingAndGlyphs">Балтийская система высот</text>
<text x="3250" y="149" textLength="80" lengthAdjust="spacingAndGlyphs">98% обеспеченностью</text>
<text x="3265" y="158">ТНГ</text>
<text x="3264" y="175" textLength="92" lengthAdjust="spacingAndGlyphs">"0" глубин Ванино 1926г.</text>
<text transform="translate(3233,120) rotate(-90)">0.478м</text>
<text transform="translate(3207,160) rotate(-90)">1.498м</text>
<text transform="translate(3223,163) rotate(-90)">1.020м</text>
<text transform="translate(3240,210) rotate(-90)">0.23м</text>
<text transform="translate(3258,210) rotate(-90)">0.07м</text>
</g>
<text x="3103" y="305" font-size="14" textLength="135" lengthAdjust="spacingAndGlyphs">Условные обозначения:</text>
<g stroke="#222" stroke-width="1.3">
<rect x="3105" y="332" width="28" height="22" fill="url(#pX)"/>
<rect x="3105" y="363" width="28" height="22" fill="#fff"/>
<rect x="3105" y="393" width="28" height="23" fill="url(#pH)"/>
<rect x="3105" y="423" width="28" height="22" fill="url(#pD)"/>
<rect x="3105" y="455" width="28" height="23" fill="url(#pO)"/>
<rect x="3105" y="487" width="28" height="22" fill="url(#pT)"/>
<rect x="3105" y="519" width="28" height="23" fill="url(#pZ)"/>
<rect x="3105" y="551" width="28" height="23" fill="url(#pZ)"/>
</g>
<g fill="#fff" stroke="#222" stroke-width="1"><circle cx="3119" cy="343" r="7.5"/><circle cx="3119" cy="374" r="7"/><circle cx="3119" cy="404.5" r="7"/><circle cx="3119" cy="434" r="7"/><circle cx="3119" cy="466.5" r="7"/><circle cx="3119" cy="498" r="7"/><circle cx="3119" cy="530.5" r="7"/><circle cx="3119" cy="562.5" r="7"/></g>
<g font-size="8.5"><text x="3119" y="346" class="m">1a</text><text x="3119" y="377" class="m">2</text><text x="3119" y="407.5" class="m">3</text><text x="3119" y="437" class="m">5</text><text x="3119" y="469.5" class="m">6</text><text x="3119" y="501" class="m">7</text><text x="3119" y="533.5" class="m">8</text><text x="3119" y="565.5" class="m">9</text></g>
<g font-size="11">
<text x="3138" y="343" textLength="225" lengthAdjust="spacingAndGlyphs">- техногенный (насыпной) крупнообломочный грунт,</text>
<text x="3146" y="356">слежавшийся;</text>
<text x="3138" y="378">- илы глинистые, текучие;</text>
<text x="3138" y="408">- глинистые грунты (глины);</text>
<text x="3138" y="437">- глинистые грунты (суглинки);</text>
<text x="3138" y="464" textLength="243" lengthAdjust="spacingAndGlyphs">- гравийный грунт с песчаным, супесчано-суглинистым</text>
<text x="3143" y="477">заполнителем от 20 до 45%;</text>
<text x="3138" y="496" textLength="220" lengthAdjust="spacingAndGlyphs">- щебенистый грунт с суглинистым заполнителем</text>
<text x="3143" y="508">от 25 до 45%;</text>
<text x="3138" y="535" textLength="180" lengthAdjust="spacingAndGlyphs">- скальный грунт (базальты)малопрочные;</text>
<text x="3138" y="560" textLength="210" lengthAdjust="spacingAndGlyphs">- скальный грунт(базальт) средней прочности,</text>
<text x="3146" y="573">трещиноватый;</text>
</g>

<!-- ================= NOTES ================= -->
<g font-size="12">
<text x="2881" y="1227" textLength="69" lengthAdjust="spacingAndGlyphs">Примечание:</text>
<text x="2881" y="1243" textLength="230" lengthAdjust="spacingAndGlyphs">1.  Перспективное судно см. проект CNF11CPD;</text>
<text x="2881" y="1259" textLength="114" lengthAdjust="spacingAndGlyphs">2. Размеры даны в мм;</text>
<text x="2881" y="1275" textLength="162" lengthAdjust="spacingAndGlyphs">3. Смотреть совместно с л. 2,4;</text>
<text x="2881" y="1292" textLength="127" lengthAdjust="spacingAndGlyphs">4. Отметки даны в БС77;</text>
<text x="2881" y="1308" textLength="401" lengthAdjust="spacingAndGlyphs">5. Отбойные устройства- деревянные рамы по всей длине причалов №№14,14а;</text>
<text x="2881" y="1324" textLength="449" lengthAdjust="spacingAndGlyphs">6. Отбойные устройства в голове пирса - Sumitomo HOM-600H type Rubber Fender,см.18;</text>
<text x="2881" y="1340" textLength="371" lengthAdjust="spacingAndGlyphs">7. Знак СНО см. том №213/ДО-15-СНО, фундамент под знак СНО см. л.17;</text>
<text x="2881" y="1356" textLength="411" lengthAdjust="spacingAndGlyphs">8. Линия естественного дна нанесена согласно промеров, выполненных в 2015 г.</text>
<text x="2881" y="1372" textLength="389" lengthAdjust="spacingAndGlyphs">9. Амортизационный щит - Sumitomo HOM-600H type Rubber Fender, см. л.19;</text>
<text x="2881" y="1388" textLength="461" lengthAdjust="spacingAndGlyphs">10. Грунты соответствуют техническому отчету об инженерно-геологических испытаниях</text>
<text x="2896" y="1404" textLength="87" lengthAdjust="spacingAndGlyphs">№213/ДО-15-ИГИ.</text>
</g>

<!-- ================= TITLE BLOCK ================= -->
<g stroke="#111" stroke-width="1.3" fill="none">
<rect x="2889" y="1443" width="510" height="148" stroke-width="2.2"/>
<path d="M2918,1443V1511M2973,1443V1511M2945,1443V1592M3000,1443V1592M3042,1443V1592"/>
<path d="M3069,1443V1592" stroke-width="2.2"/>
<path d="M2889,1456H3069M2889,1469H3069M2889,1483H3069M2889,1525H3069M2889,1539H3069M2889,1552H3069M2889,1566H3069M2889,1580H3069"/>
<path d="M2889,1497H3069M2889,1511H3400M3069,1469H3400M3069,1552H3400" stroke-width="2"/>
<path d="M3262,1511V1592M3304,1511V1552M3346,1511V1552M3262,1525H3400"/>
</g>
<g font-size="9">
<text x="2892" y="1508">Изм.</text><text x="2920" y="1508">Кол.уч</text><text x="2948" y="1508">Лист</text><text x="2975" y="1508">№ док.</text><text x="3010" y="1508">Подп.</text><text x="3045" y="1508">Дата</text>
<text x="2892" y="1522">ГИП</text><text x="2947" y="1522">Константинов</text>
<text x="2892" y="1536">Рук.группы</text><text x="2947" y="1536">Сполитак</text>
<text x="2892" y="1550">Инженер</text><text x="2947" y="1550">Озерова</text>
<text x="2892" y="1590">Н.контроль</text><text x="2947" y="1590">Слубчинский</text>
</g>
<path d="M3005,1522Q3020,1510 3035,1518M3008,1535Q3018,1524 3030,1532M3006,1547Q3018,1538 3032,1544" stroke="#8899bb" stroke-width="1" fill="none"/>
<text x="3234" y="1464" font-size="22" class="m" textLength="180" lengthAdjust="spacingAndGlyphs">№213/ДО-15-КР1-И1</text>
<g font-size="12" class="m">
<text x="3234" y="1480" class="m" textLength="200" lengthAdjust="spacingAndGlyphs">Реконструкция береговых сооружений</text>
<text x="3234" y="1494" class="m" textLength="310" lengthAdjust="spacingAndGlyphs">автомобильно-железнодорожного паромного сообщения</text>
<text x="3234" y="1508" class="m" textLength="226" lengthAdjust="spacingAndGlyphs">"Ванино-Холмск" в морском порту Ванино</text>
<text x="3164" y="1535" class="m" textLength="168" lengthAdjust="spacingAndGlyphs">Гидротехнические сооружения</text>
<text x="3164" y="1576" class="m" textLength="186" lengthAdjust="spacingAndGlyphs">Фасады причалов №№14,14а. М1:200</text>
</g>
<g font-size="10">
<text x="3283" y="1522" class="m">Стадия</text><text x="3325" y="1522" class="m">Лист</text><text x="3373" y="1522" class="m">Листов</text>
<text x="3283" y="1543" class="m" font-size="12">П</text><text x="3325" y="1543" class="m" font-size="12">3</text>
<text x="3331" y="1567" class="m" textLength="118" lengthAdjust="spacingAndGlyphs">ООО "ПриМорПроектБюро"</text>
<text x="3331" y="1583" class="m">г. Владивосток</text>
</g>
</svg>
</body></html>
